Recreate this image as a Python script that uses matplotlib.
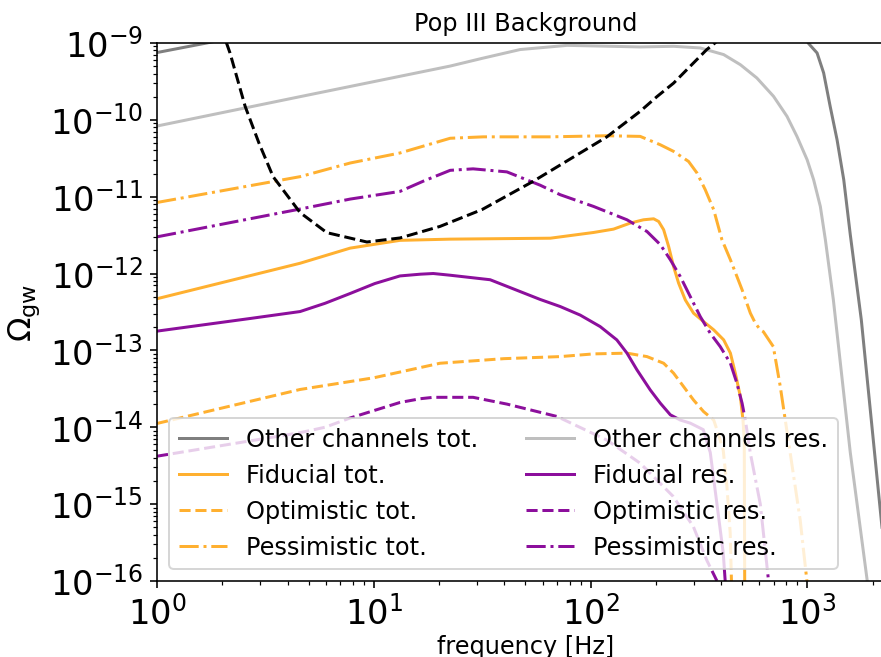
import numpy as np
import matplotlib
matplotlib.use("Agg")
import matplotlib.pyplot as plt
from matplotlib.ticker import LogLocator

# colours
C_TOT_OTHER = "#7f7f7f"
C_RES_OTHER = "#bfbfbf"
C_TOT = "#ffb030"
C_RES = "#8c0f9c"

# other channels, total
f_other_tot = [1, 1.7, 3, 10, 100, 800, 950, 1014, 1109, 1189, 1274, 1371,
               1472, 1578, 1774, 2193, 2512]
om_other_tot = [7.5e-10, 1.0e-9, 1.4e-9, 2.5e-9, 4e-9, 2.5e-9, 1.3e-9, 9.8e-10,
                7.4e-10, 4.07e-10, 1.5e-10, 5.5e-11, 1.66e-11, 3.2e-12, 2.5e-13,
                6.2e-16, 1.4e-17]

# other channels, residual
f_other_res = [1, 4.57, 22.5, 31.6, 47.3, 78.0, 169.4, 241.5, 320.6, 411.1,
               490.9, 584.8, 698.2, 805.4, 895.4, 997.7, 1069, 1148, 1211, 1318,
               1578, 1888, 1995]
om_other_res = [8.3e-11, 2.0e-10, 5.0e-10, 6.3e-10, 8.2e-10, 9.3e-10, 8.87e-10,
                9.04e-10, 8.6e-10, 7.05e-10, 5.21e-10, 3.5e-10, 2.02e-10,
                1.11e-10, 6.08e-11, 3.02e-11, 1.66e-11, 7.45e-12, 2.75e-12,
                4.57e-13, 4.68e-15, 1.02e-16, 3e-17]

# sensitivity curve (black dashed)
f_sens = [2.0, 2.09, 2.17, 2.55, 2.95, 3.43, 4.57, 6.07, 9.29, 13.2, 20.2,
          31.6, 54.3, 118.9, 169.4, 202.3, 241.5, 287.7, 343.6, 375, 447]
om_sens = [1.6e-9, 1.0e-9, 7.4e-10, 1.49e-10, 5.0e-11, 1.82e-11, 6.2e-12,
           3.4e-12, 2.57e-12, 2.9e-12, 4.1e-12, 6.8e-12, 1.58e-11, 6.0e-11,
           1.29e-10, 2.0e-10, 3.0e-10, 4.95e-10, 8.2e-10, 1.0e-9, 1.5e-9]

# fiducial
f_fid_tot = [1, 4.57, 7.78, 13.2, 22.5, 65.2, 103.3, 127.6, 152.4, 175.4,
             195.4, 206.1, 217.3, 229.1, 241.5, 254.7, 273.5, 298.5, 331.9,
             369.8, 411.1, 441.6, 465.6, 490.9, 504.7, 511.7, 514.0, 516]
om_fid_tot = [4.7e-13, 1.36e-12, 2.14e-12, 2.7e-12, 2.8e-12, 2.88e-12,
              3.42e-12, 3.78e-12, 4.53e-12, 5.0e-12, 5.15e-12, 4.75e-12,
              3.71e-12, 2.25e-12, 1.23e-12, 7.5e-13, 4.53e-13, 3.05e-13,
              2.37e-13, 1.85e-13, 1.37e-13, 9.2e-14, 5.0e-14, 2.5e-14, 1.24e-14,
              6.8e-15, 1e-16, 3e-17]
f_fid_res = [1, 2.69, 4.57, 5.96, 7.78, 10.1, 13.2, 16.4, 18.8, 22.5, 34.4,
             58.5, 72.4, 89.5, 110.7, 132.1, 147.2, 163.7, 188.4, 209.9, 233.3,
             259.4, 288.4, 331, 356.5, 382.8, 409.3, 417.8, 426.6]
om_fid_res = [1.78e-13, 2.6e-13, 3.2e-13, 4.1e-13, 5.5e-13, 7.4e-13, 9.3e-13,
              9.8e-13, 1.0e-12, 9.5e-13, 8.3e-13, 4.6e-13, 3.72e-13, 2.88e-13,
              2.04e-13, 1.37e-13, 9.2e-14, 5.57e-14, 3.06e-14, 2.05e-14,
              1.45e-14, 1.24e-14, 1.13e-14, 9.3e-15, 4.7e-15, 1.0e-15, 2.3e-16,
              1.0e-16, 4e-17]

# optimistic
f_opt_tot = [1, 4.57, 10, 20.2, 39.8, 72.4, 103.3, 147.2, 182, 217.3, 241.5,
             268.5, 298.5, 331.9, 369.8, 382.8, 409.3, 425.6, 440.6, 448.7]
om_opt_tot = [1.12e-14, 3.1e-14, 4.4e-14, 6.8e-14, 7.8e-14, 8.3e-14, 9.0e-14,
              9.2e-14, 8.3e-14, 6.8e-14, 5.05e-14, 3.38e-14, 2.26e-14, 1.6e-14,
              1.24e-14, 9.3e-15, 5.0e-15, 1.7e-15, 4.2e-16, 6e-17]
f_opt_res = [1, 4.57, 5.96, 7.78, 10.1, 13.2, 16.4, 18.8, 28.7, 41.1, 70,
             118.9, 169.4, 240.4, 297.9, 343.6, 382.8, 395]
om_opt_res = [4.2e-15, 8.5e-15, 1.0e-14, 1.32e-14, 1.66e-14, 2.1e-14, 2.35e-14,
              2.45e-14, 2.45e-14, 2.0e-14, 1.38e-14, 6.8e-15, 3.4e-15, 1.26e-15,
              5.1e-16, 1.86e-16, 1.0e-16, 6e-17]

# pessimistic
f_pes_tot = [1, 4.57, 7.78, 13.2, 22.5, 32, 65.2, 118.9, 169.4, 209.4, 241.5,
             283.1, 309.7, 338.1, 369.8, 403.6, 441.6, 500, 545.8, 575.4, 606.7,
             626.6, 696.6, 749.9, 833.7, 926.8, 995.4, 1030]
om_pes_tot = [8.4e-12, 1.82e-11, 2.74e-11, 3.7e-11, 5.75e-11, 6.0e-11, 6.0e-11,
              6.2e-11, 6.08e-11, 4.74e-11, 3.88e-11, 2.87e-11, 2.03e-11,
              1.23e-11, 6.76e-12, 2.75e-12, 1.51e-12, 6.14e-13, 3.05e-13,
              2.26e-13, 1.85e-13, 1.75e-13, 1.12e-13, 3.4e-14, 4.6e-15, 6.2e-16,
              1.0e-16, 4e-17]
f_pes_res = [1, 4.57, 7.78, 13.2, 17, 22.5, 28.7, 41.1, 58.5, 72.4, 103.3,
             147.2, 182, 209.9, 233.3, 259.4, 288.4, 320.6, 356.5, 396.3, 441.6,
             473.2, 500, 517.6, 545.8, 606.7, 662.2, 690]
om_pes_res = [3.0e-12, 6.9e-12, 9.3e-12, 1.17e-11, 1.6e-11, 2.2e-11, 2.3e-11,
              2.1e-11, 1.41e-11, 1.06e-11, 7.45e-12, 5.0e-12, 3.52e-12,
              2.37e-12, 1.51e-12, 9.1e-13, 5.0e-13, 2.75e-13, 1.67e-13,
              1.12e-13, 6.8e-14, 3.74e-14, 2.05e-14, 1.24e-14, 4.6e-15, 1.0e-15,
              1.0e-16, 4e-17]

DPI = 144
LW = 1.5
TEXT = 12
TICKS = 16.8


def main() -> None:
    fig = plt.figure(figsize=(881.4 / DPI, 657.4 / DPI), dpi=DPI)
    ax = fig.add_axes([157 / 881, 76 / 657, 736.2 / 881, 537.7 / 657])

    ax.loglog(f_other_tot, om_other_tot, color=C_TOT_OTHER, lw=LW,
              label="Other channels tot.")
    ax.loglog(f_fid_tot, om_fid_tot, color=C_TOT, lw=LW, label="Fiducial tot.")
    ax.loglog(f_opt_tot, om_opt_tot, color=C_TOT, lw=LW, ls="--",
              label="Optimistic tot.")
    ax.loglog(f_pes_tot, om_pes_tot, color=C_TOT, lw=LW, ls="-.",
              label="Pessimistic tot.")
    ax.loglog(f_other_res, om_other_res, color=C_RES_OTHER, lw=LW,
              label="Other channels res.")
    ax.loglog(f_fid_res, om_fid_res, color=C_RES, lw=LW, label="Fiducial res.")
    ax.loglog(f_opt_res, om_opt_res, color=C_RES, lw=LW, ls="--",
              label="Optimistic res.")
    ax.loglog(f_pes_res, om_pes_res, color=C_RES, lw=LW, ls="-.",
              label="Pessimistic res.")
    ax.loglog(f_sens, om_sens, color="black", lw=LW, ls="--")

    ax.set_xlim(1, 2500)
    ax.set_ylim(1e-16, 1e-9)
    # keep a label on every decade
    ax.yaxis.set_major_locator(LogLocator(base=10, numticks=20))
    ax.xaxis.set_major_locator(LogLocator(base=10, numticks=20))
    ax.tick_params(axis="both", which="major", labelsize=TICKS)
    ax.set_xlabel("frequency [Hz]", fontsize=TEXT, labelpad=2)
    ax.set_ylabel(r"$\Omega_{\rm gw}$", fontsize=16, labelpad=4)
    ax.set_title("Pop III Background", fontsize=TEXT)
    ax.legend(loc="lower left", ncol=2, fontsize=TEXT)

    fig.savefig("out.png", dpi=DPI)


if __name__ == "__main__":
    main()
